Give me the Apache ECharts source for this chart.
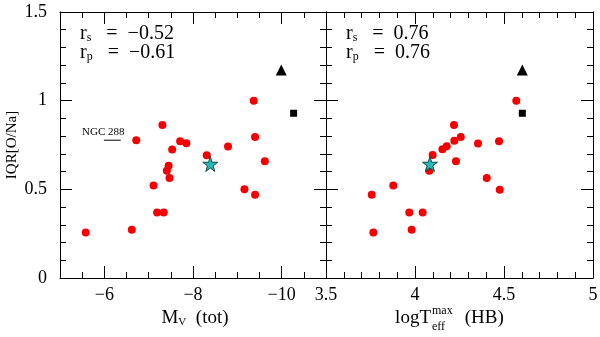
<!DOCTYPE html>
<html>
<head>
<meta charset="utf-8">
<script src="https://cdn.jsdelivr.net/npm/echarts@6/dist/echarts.min.js"></script>
<style>
html, body { margin: 0; padding: 0; background: #fff; }
#chart { width: 600px; height: 337px; }
</style>
</head>
<body>
<div id="chart"></div>
<script>
// left panel: integrated M_V vs IQR[O/Na]
var mvRed = [-5.58, -6.62, -6.72, -7.11, -7.19, -7.34, -7.31, -7.41, -7.45, -7.47,
  -7.53, -7.71, -7.85, -8.31, -8.79, -9.16, -9.37, -9.40, -9.40, -9.62];
var iqrLeft = [0.256, 0.272, 0.777, 0.521, 0.370, 0.370, 0.863, 0.605, 0.633, 0.564,
  0.724, 0.771, 0.760, 0.692, 0.741, 0.500, 1.000, 0.795, 0.470, 0.658];
// right panel: log Teff max of the HB vs IQR[O/Na]
var logTRed = [3.757, 3.766, 3.878, 3.968, 3.981, 4.043, 4.080, 4.099, 4.154, 4.178,
  4.219, 4.221, 4.230, 4.257, 4.354, 4.403, 4.472, 4.476, 4.569];
var iqrRight = [0.470, 0.256, 0.521, 0.370, 0.272, 0.370, 0.605, 0.694, 0.726, 0.743,
  0.863, 0.774, 0.658, 0.795, 0.758, 0.564, 0.771, 0.498, 1.000];
// special clusters [x, y]
var starLeft = [-8.39, 0.643], starRight = [4.084, 0.643];
var triLeft = [-9.99, 1.173], triRight = [4.603, 1.173];
var sqLeft = [-10.27, 0.929], sqRight = [4.603, 0.929];
// NGC 288 pointer segment
var ngcPointer = [[-5.99, 0.777], [-6.37, 0.777]];

var mvMajor = [-10, -8, -6];
var yTicks = { min: 0, max: 1.5, interval: 0.5 };
var corrLeft = ["\u22120.52", "\u22120.61"];
var corrRight = ["0.76", "0.76"];

var FONT = "Liberation Serif";
var chart = echarts.init(document.getElementById("chart"));

function zip(xs, ys) {
  return xs.map(function (x, i) { return [x, ys[i]]; });
}
function minus(v) {
  return String(v).replace("-", "\u2212");
}
function tick(len) {
  return { show: true, inside: true, length: len, lineStyle: { color: "#000", width: 1 } };
}
function line(show) {
  return { show: show, onZero: false, lineStyle: { color: "#000", width: 1 } };
}
function label(show) {
  return { show: show, color: "#000", fontFamily: FONT, fontSize: 18, margin: 8 };
}
function yAxis(grid, pos, showLabel) {
  return {
    type: "value", gridIndex: grid, position: pos,
    min: yTicks.min, max: yTicks.max, interval: yTicks.interval,
    axisLine: line(true), axisTick: tick(12),
    minorTick: { show: true, splitNumber: 5, length: 6, lineStyle: { color: "#000" } },
    axisLabel: Object.assign(label(showLabel), { margin: 13 }),
    splitLine: { show: false }, minorSplitLine: { show: false }
  };
}
function mvAxis(pos, major, showLabel) {
  var ax = {
    type: "value", gridIndex: 0, position: pos, inverse: true,
    min: -11, max: -5,
    splitLine: { show: false }
  };
  if (major) {
    ax.axisLine = line(true);
    ax.axisTick = Object.assign(tick(12), { customValues: mvMajor });
    ax.axisLabel = Object.assign(label(showLabel), { customValues: mvMajor, formatter: minus });
  } else {
    ax.interval = 0.5;
    ax.axisLine = line(false);
    ax.axisTick = tick(6);
    ax.axisLabel = { show: false };
  }
  return ax;
}
function logTAxis(pos, showLabel) {
  return {
    type: "value", gridIndex: 1, position: pos,
    min: 3.5, max: 5, interval: 0.5,
    axisLine: line(true), axisTick: tick(12),
    minorTick: { show: true, splitNumber: 5, length: 6, lineStyle: { color: "#000" } },
    axisLabel: label(showLabel),
    splitLine: { show: false }, minorSplitLine: { show: false }
  };
}

var starPath = "path://M50,0 L61,35 L98,35 L68,57 L79,91 L50,70 L21,91 L32,57 L2,35 L39,35 Z";

function panelSeries(xi, yi, reds, star, tri, sq) {
  return [
    { type: "scatter", xAxisIndex: xi, yAxisIndex: yi, data: reds, symbol: "circle", symbolSize: 8,
      itemStyle: { color: "#f50000", opacity: 1 }, silent: true },
    { type: "scatter", xAxisIndex: xi, yAxisIndex: yi, data: [tri], symbol: "triangle", symbolSize: 11,
      itemStyle: { color: "#000", opacity: 1 }, silent: true },
    { type: "scatter", xAxisIndex: xi, yAxisIndex: yi, data: [sq], symbol: "rect", symbolSize: 7,
      itemStyle: { color: "#000", opacity: 1 }, silent: true },
    { type: "scatter", xAxisIndex: xi, yAxisIndex: yi, data: [star], symbol: starPath, symbolSize: 15,
      itemStyle: { color: "#24b8b8", borderColor: "#104848", borderWidth: 1, opacity: 1 }, silent: true }
  ];
}

function corrText(x, vals) {
  var rich = {
    r: { fontFamily: FONT, fontSize: 20, fill: "#000" },
    s: { fontFamily: FONT, fontSize: 12, fill: "#000", verticalAlign: "bottom", padding: [9, 0, 0, 0] }
  };
  return [
    { type: "text", x: x, y: 23, style: { text: "{r|r}{s|s}{r|   =  " + vals[0] + "}", rich: rich } },
    { type: "text", x: x, y: 42, style: { text: "{r|r}{s|p}{r|   =  " + vals[1] + "}", rich: rich } }
  ];
}

chart.setOption({
  animation: false,
  backgroundColor: "#fff",
  grid: [
    { left: 60, top: 12, width: 266, height: 266, containLabel: false, outerBoundsMode: "none" },
    { left: 326, top: 12, width: 267, height: 266, containLabel: false, outerBoundsMode: "none" }
  ],
  xAxis: [
    mvAxis("bottom", true, true),
    mvAxis("bottom", false, false),
    mvAxis("top", true, false),
    mvAxis("top", false, false),
    logTAxis("bottom", true),
    logTAxis("top", false)
  ],
  yAxis: [
    yAxis(0, "left", true),
    yAxis(0, "right", false),
    yAxis(1, "left", false),
    yAxis(1, "right", false)
  ],
  series: panelSeries(0, 0, zip(mvRed, iqrLeft), starLeft, triLeft, sqLeft)
    .concat(panelSeries(4, 2, zip(logTRed, iqrRight), starRight, triRight, sqRight))
    .concat([{
      type: "line", xAxisIndex: 0, yAxisIndex: 0, data: ngcPointer, symbol: "none",
      lineStyle: { color: "#000", width: 1 }, silent: true
    }]),
  graphic: [
    { type: "text", x: 12, y: 145, rotation: Math.PI / 2,
      style: { text: "IQR[O/Na]", fontFamily: FONT, fontSize: 15, fill: "#000", align: "center", verticalAlign: "middle" } },
    { type: "text", x: 195, y: 318,
      style: { text: "{m|M}{v|V}{m|  (tot)}", align: "center", verticalAlign: "middle",
        rich: { m: { fontFamily: FONT, fontSize: 19, fill: "#000" },
                v: { fontFamily: FONT, fontSize: 11, fill: "#000", verticalAlign: "bottom", padding: [8, 0, 0, 0] } } } },
    { type: "text", x: 431, y: 318,
      style: { text: "logT", fontFamily: FONT, fontSize: 19, fill: "#000", align: "right", verticalAlign: "middle" } },
    { type: "text", x: 432, y: 311,
      style: { text: "max", fontFamily: FONT, fontSize: 12, fill: "#000", align: "left", verticalAlign: "middle" } },
    { type: "text", x: 432, y: 327,
      style: { text: "eff", fontFamily: FONT, fontSize: 12, fill: "#000", align: "left", verticalAlign: "middle" } },
    { type: "text", x: 460, y: 318,
      style: { text: " (HB)", fontFamily: FONT, fontSize: 19, fill: "#000", align: "left", verticalAlign: "middle" } },
    { type: "text", x: 82, y: 127,
      style: { text: "NGC 288", fontFamily: FONT, fontSize: 11, fill: "#000" } }
  ].concat(corrText(80, corrLeft)).concat(corrText(346, corrRight))
});
</script>
</body>
</html>
